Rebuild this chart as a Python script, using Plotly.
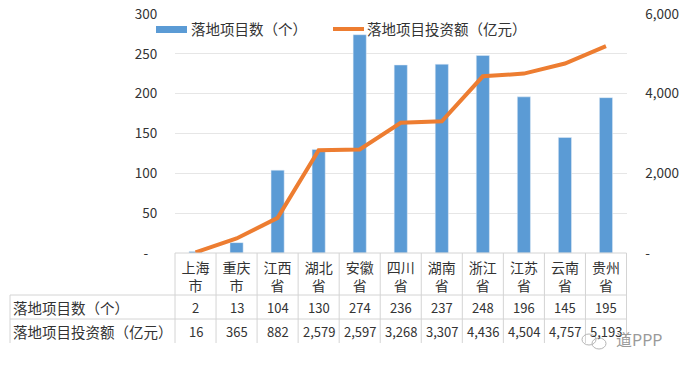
import plotly.graph_objects as go

provinces = ["上海<br>市", "重庆<br>市", "江西<br>省", "湖北<br>省", "安徽<br>省", "四川<br>省",
             "湖南<br>省", "浙江<br>省", "江苏<br>省", "云南<br>省", "贵州<br>省"]
project_counts = [2, 13, 104, 130, 274, 236, 237, 248, 196, 145, 195]
investment = [16, 365, 882, 2579, 2597, 3268, 3307, 4436, 4504, 4757, 5193]
count_name = "落地项目数（个）"
invest_name = "落地项目投资额（亿元）"
left_ticks = [0, 50, 100, 150, 200, 250, 300]
left_labels = ["-\u00a0\u00a0\u00a0", "50", "100", "150", "200", "250", "300"]
right_ticks = [0, 2000, 4000, 6000]
right_labels = ["-", "2,000", "4,000", "6,000"]

W, H = 684, 370
FONT = "Noto Sans CJK SC, Liberation Sans, sans-serif"
TXT = "#333333"
BLUE = "#5B9BD5"
ORANGE = "#ED7D31"
GRID = "#E6E6E6"
TBL = "#D4D4D4"
L, R, T, B = 175, 626.5, 14, 253
px = lambda v: v / W
py = lambda v: 1 - v / H

fig = go.Figure()
fig.add_bar(x=provinces, y=project_counts, name=count_name, marker_color=BLUE, width=0.32, yaxis="y")
fig.add_scatter(x=provinces, y=investment, name=invest_name, mode="lines",
                line=dict(color=ORANGE, width=4), yaxis="y2")

shapes, ann = [], []
def line(x0, y0, x1, y1, c=TBL, w=1):
    shapes.append(dict(type="line", xref="paper", yref="paper", x0=px(x0), x1=px(x1), y0=py(y0), y1=py(y1),
                       line=dict(color=c, width=w)))
def text(x, y, s, size=13, anchor="center", xref="paper", color=TXT):
    ann.append(dict(text=s, x=x if xref != "paper" else px(x), y=py(y), xref=xref, yref="paper",
                    xanchor=anchor, yanchor="middle", showarrow=False,
                    font=dict(size=size, color=color, family=FONT)))

# table grid
step = (R - L) / len(provinces)
for i in range(len(provinces) + 1):
    line(L + i * step, 253, L + i * step, 343)
line(10, 295, 10, 343)
line(L, 253, R, 253)
line(10, 295, R, 295)
line(10, 319, R, 319)

# table text
text(11, 307, count_name, size=14.5, anchor="left")
text(11, 331, invest_name, size=14.5, anchor="left")
for p, c, v in zip(provinces, project_counts, investment):
    text(p, 307, str(c), xref="x")
    text(p, 331, f"{v:,}", xref="x")

# legend
shapes.append(dict(type="rect", xref="paper", yref="paper", x0=px(156), x1=px(187), y0=py(26), y1=py(33),
                   fillcolor=BLUE, line_width=0))
line(333, 29, 364, 29, c=ORANGE, w=4)
text(189, 29, count_name, size=14.5, anchor="left")
text(365, 29, invest_name, size=14.5, anchor="left")

# watermark
text(614, 339, "道PPP", size=16, anchor="left", color="#9A9A9A")
for x0, y0, x1, y1 in [(582, 334, 596, 345), (592, 338, 606, 349)]:
    shapes.append(dict(type="circle", xref="paper", yref="paper", x0=px(x0), x1=px(x1), y0=py(y0), y1=py(y1),
                       line=dict(color="#B5B5B5", width=1)))

tickfont = dict(size=13.5, color=TXT, family=FONT)
fig.update_layout(
    width=W, height=H, margin=dict(l=0, r=0, t=0, b=0), autosize=False,
    paper_bgcolor="white", plot_bgcolor="white", showlegend=False,
    shapes=shapes, annotations=ann,
    xaxis=dict(domain=[px(L), px(R)], type="category", showgrid=False, zeroline=False, automargin=False,
               showline=False, ticks="outside", ticklen=2, tickcolor="rgba(0,0,0,0)",
               tickfont=dict(size=14, color=TXT, family=FONT), tickangle=0, anchor="y"),
    yaxis=dict(domain=[py(B), py(T)], range=[0, 300], tickvals=left_ticks, ticktext=left_labels, automargin=False,
               showgrid=True, gridcolor=GRID, gridwidth=1, zeroline=False, showline=False,
               ticks="outside", ticklen=14, tickcolor="rgba(0,0,0,0)", tickfont=tickfont),
    yaxis2=dict(domain=[py(B), py(T)], range=[0, 6000], overlaying="y", side="right", anchor="x", automargin=False,
                tickvals=right_ticks, ticktext=right_labels, showgrid=False, zeroline=False,
                showline=False, ticks="outside", ticklen=15, tickcolor="rgba(0,0,0,0)", tickfont=tickfont),
)
fig.write_html("out.html", config={"displayModeBar": False}, post_script="document.body.style.margin='0';")
